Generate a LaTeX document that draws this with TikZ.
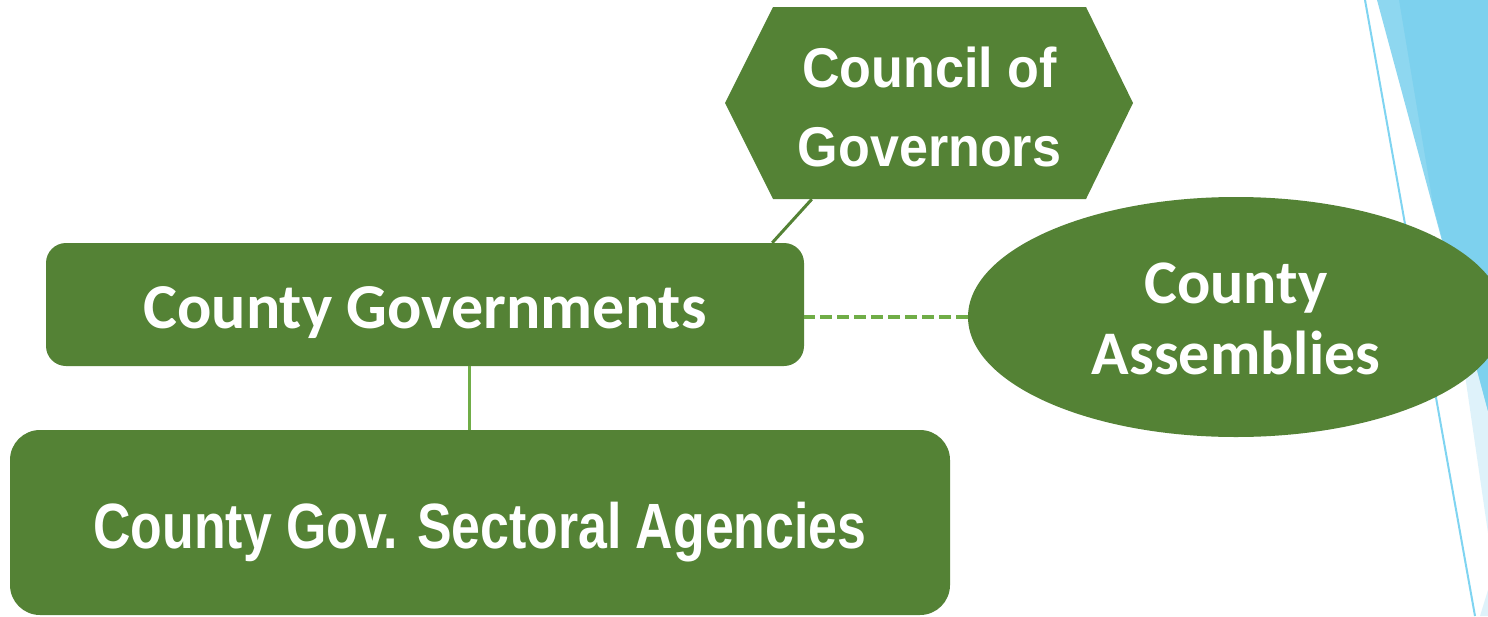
\documentclass[tikz,border=0pt]{standalone}
\usepackage{fontspec}
\usetikzlibrary{shapes.geometric,calc}
\newfontfamily\narrowfont[FakeStretch=0.81]{Liberation Sans}
\newfontfamily\cogfont[FakeStretch=0.93]{Liberation Sans}
\newfontfamily\calfont{Carlito}
\definecolor{boxgreen}{HTML}{548235}
\definecolor{linegreen}{HTML}{70AD47}
\definecolor{facetblue}{HTML}{7DD1EE}
\definecolor{facetbluelight}{HTML}{8ED7F0}
\definecolor{facetpale}{HTML}{DEF2FA}
\definecolor{facetline}{HTML}{7FD4F1}
\tikzset{
  gbox/.style={rectangle, fill=boxgreen, text=white, inner sep=0pt, draw=none},
  diagconn/.style={draw=boxgreen, line width=3pt},
  vconn/.style={draw=linegreen, line width=2.7pt},
  dashconn/.style={draw=linegreen, line width=4pt, dash pattern=on 12pt off 5pt},
}
\begin{document}
\begin{tikzpicture}[x=1pt,y=-1pt]
\useasboundingbox (0,0) rectangle (1488,616);
\fill[white] (0,0) rectangle (1488,616);
% background facet decoration
\fill[facetpale] (1449,265) -- (1488,265) -- (1488,533) -- cycle;
\fill[facetpale] (1480,616) -- (1488,590) -- (1488,616) -- cycle;
\fill[facetbluelight] (1377,0) -- (1488,0) -- (1488,411) -- cycle;
\fill[facetblue] (1399,0) -- (1488,0) -- (1488,411) -- (1433,204) -- cycle;
\draw[facetline, line width=2pt] (1365,0) -- (1475,616);

% hexagon outline shape
\fill[boxgreen] (773,7) -- (1086,7) -- (1133,103) -- (1086,199) -- (773,199) -- (725,103) -- cycle;

% nodes
\node[text=white, inner sep=0pt, minimum width=313pt, minimum height=192pt,
      align=center, text height=127.4pt, text depth=0pt,
      font=\cogfont\bfseries\fontsize{56}{79.4}\selectfont] (cog) at (929.5,103) {Council of\\Governors};

\node[gbox, minimum width=758pt, minimum height=123pt, rounded corners=20pt,
      text height=47pt, text depth=0pt,
      font=\calfont\bfseries\fontsize{64}{70}\selectfont] (cg) at (425,304.5) {County Governments};

\node[ellipse, fill=boxgreen, text=white, inner sep=0pt, minimum width=536pt, minimum height=240pt,
      align=center, text height=114pt, text depth=0pt,
      font=\calfont\bfseries\fontsize{62}{70.7}\selectfont] (ca) at (1236,317) {County\\Assemblies};

\node[gbox, minimum width=940pt, minimum height=185pt, rounded corners=30pt,
      text height=51pt, text depth=0pt,
      font=\narrowfont\bfseries\fontsize{64}{70}\selectfont] (sa) at (480,522.5) {County Gov. Sectoral Agencies};

% connectors
\draw[diagconn] ([xshift=-32pt]cg.north east) -- ([xshift=39pt]cog.south west);
\draw[vconn] ([xshift=44.5pt]cg.south) -- ([xshift=44.5pt]cg.south |- sa.north);
\draw[dashconn] (ca.west) -- (ca.west -| cg.east);
\end{tikzpicture}
\end{document}
